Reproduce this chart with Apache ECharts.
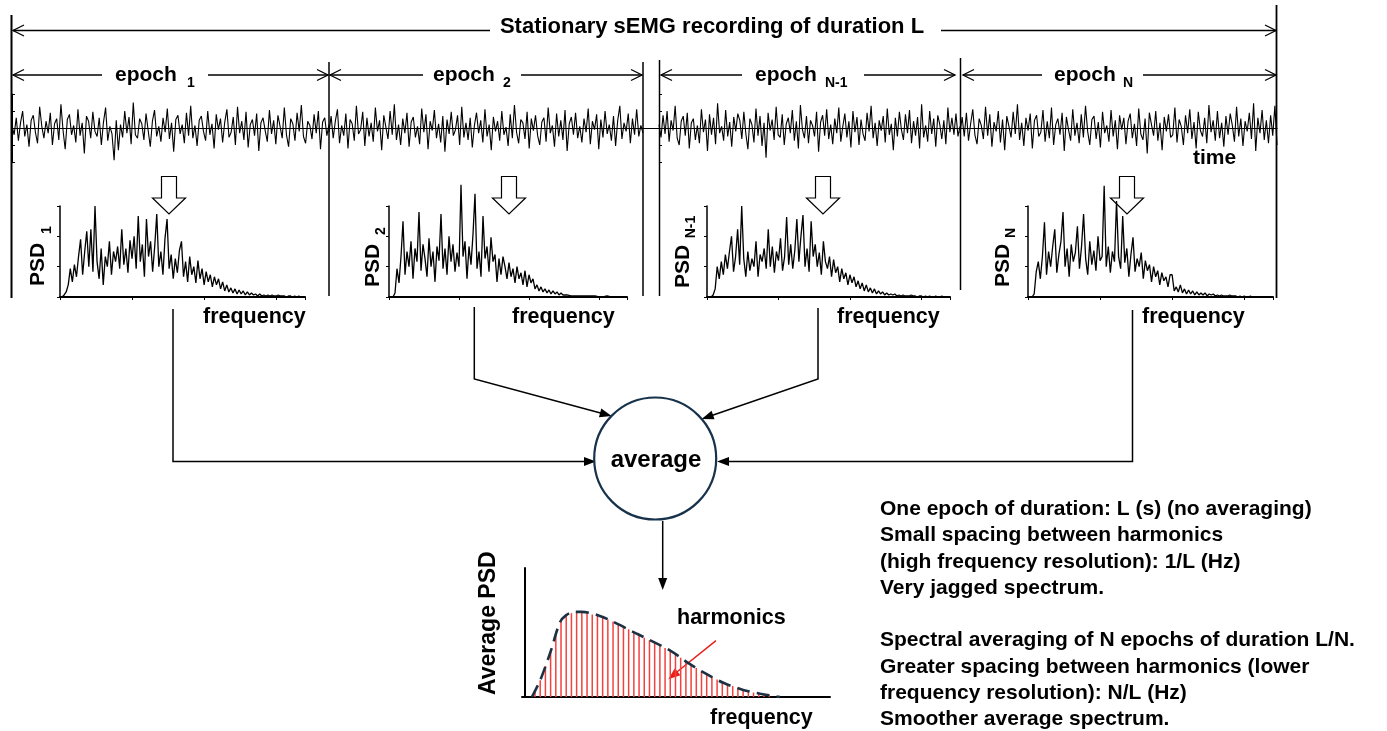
<!DOCTYPE html>
<html><head><meta charset="utf-8">
<script src="https://cdn.jsdelivr.net/npm/echarts@6/dist/echarts.min.js"></script>
<style>html,body{margin:0;padding:0;background:#fff}#c{width:1387px;height:731px}</style>
</head><body><div id="c"></div>
<script>
// ---- sEMG signal (4 epochs, amplitude, arbitrary units) ----
const epoch1 = [3,-8,12,-15,6,20,-10,4,-22,9,15,-5,-18,25,2,-12,8,-6,18,-20,
5,11,-14,28,-3,-25,10,16,-8,3,-17,22,-9,6,-30,14,8,-12,19,-4,
-10,12,-20,7,24,-15,2,-7,-38,9,-26,4,-11,20,-6,13,-19,30,-8,-12,
11,5,-14,17,-3,-22,8,21,-10,2,-16,12,-5,23,-13,6,-28,10,15,-7,
4,-18,18,-9,26,-12,3,-21,9,14,-4,-15,20,-8,5,-24,16,-2,11,-17,
7,22,-11,-5,13,-20,25,-6,8,-14,19,-23,4,10,-9,17,-27,6,12,-3,
-16,21,-7,9,-19,15,2,-12,24,-8,-22,11,5,-15,18,-4,27,-10,-18,8,
3,-13,16,-6,20,-25,7,12,-9,4];
const epoch2 = [-5,14,-12,8,22,-18,3,-9,17,-24,10,5,-15,26,-7,-2,19,-21,12,-10,
6,-16,24,-4,9,-26,15,1,-13,20,-8,28,-14,4,-20,11,-6,18,-22,7,
13,-11,2,-19,23,-5,16,-25,8,-3,21,-12,5,-17,14,-28,10,-7,19,-9,
-2,15,-20,25,-11,6,-14,12,-23,3,18,-6,9,-17,22,-10,4,-26,13,-4,
8,-15,20,-8,1,-21,16,-12,27,-5,-18,10,6,-13,19,-24,11,-3,15,-9,
-20,7,12,-16,24,-6,3,-22,17,-10,9,-14,21,-27,5,13,-8,18,-12,2,
-17,11,-5,23,-19,8,-2,16,-25,10,-11,20,-7,4,-15,14,-21,9,26,-13,
6,-4,17,-18,11,-8,22,-10,3,-6];
const epochNm1 = [4,-11,15,-7,20,-16,9,-3,26,-12,-20,8,14,-9,18,-24,6,11,-14,3,
-18,22,-5,10,-27,16,-8,12,-19,29,-6,2,-15,21,-10,7,-22,13,-4,17,
9,-13,19,-7,-25,11,4,-17,23,-9,14,-21,6,-35,18,-3,10,-14,25,-8,
-11,16,-20,5,12,-6,21,-15,8,-24,27,-2,-12,14,-18,9,3,-10,19,-28,
7,15,-9,22,-13,4,-19,11,-6,24,-16,2,17,-11,8,-23,20,-5,13,-20,
10,-7,-15,18,-4,26,-12,6,-21,9,-3,14,-17,23,-8,5,-26,12,-10,19,
-2,-14,16,-6,21,-18,8,-9,13,-24,28,-11,3,-16,20,-7,11,-22,15,4,
-13,9,-19,24,-5,12,-8,17,-10,2];
const epochN = [-6,13,-10,18,-15,5,22,-8,-19,11,3,-13,25,-9,16,-22,7,-4,20,-17,
10,-26,14,2,-11,19,-7,28,-14,6,-21,12,-3,17,-24,9,15,-10,-5,21,
-16,8,-12,24,-20,4,11,-8,18,-27,13,-2,-15,22,-9,6,-18,16,-11,26,
-4,-20,10,14,-13,7,-23,19,-6,3,-16,21,-10,9,-25,15,-2,12,-19,8,
17,-12,5,-21,23,-7,-14,11,-30,18,4,-9,20,-15,6,-26,13,-4,16,-11,
-8,24,-17,10,2,-20,15,-6,22,-13,7,-24,19,-3,-10,12,-18,27,-5,9,
-15,20,-12,6,-22,14,-8,17,3,-16,25,-10,11,-21,8,-4,18,-13,29,-27,
12,-6,21,-14,9,-18,15,-9,26,-20];
// epoch time spans (start, end) on each half of the recording
const epochSpans = [[0,317],[317,631],[0,301],[301,618]];

// ---- PSD of each epoch (frequency bins 0..119) ----
const psd1 = [0,0,2,5,12,28,15,32,20,40, 57,22,45,65,30,67,25,90,35,18,
48,12,40,30,55,22,45,35,50,28, 67,32,48,24,56,38,60,28,80,35,
52,20,77,40,55,25,50,82,30,45, 22,58,77,28,42,18,38,24,46,55,
20,35,15,40,22,30,14,36,18,28, 12,25,15,22,10,20,12,18,8,15,
6,12,5,9,4,8,3,7,3,6, 2,5,2,4,2,3,1,3,1,2,
1,2,1,2,1,1,2,1,1,1, 0,1,1,0,1,0,1,0,0,0];
const psd2 = [0,0,0,4,28,14,40,75,22,45, 30,55,18,48,35,84,26,52,38,20,
58,30,45,15,50,36,82,28,48,22, 60,35,52,25,44,30,111,40,55,18,
50,32,62,102,28,45,20,80,38,50, 25,59,35,42,15,38,22,40,30,18,
34,20,28,14,30,18,24,12,26,10, 22,14,18,8,12,6,10,5,8,4,
7,3,6,3,5,2,4,2,3,2, 3,1,2,1,2,1,1,1,2,1,
1,1,0,1,1,0,1,0,0,1, 0,0,1,0,0,0,0,0,0,0];
const psdNm1 = [0,0,0,2,8,30,18,35,22,42, 28,45,60,25,40,67,32,90,38,20,
45,26,38,30,55,20,42,35,48,28, 67,30,50,24,45,36,58,26,40,79,
32,52,28,46,77,35,60,81,30,48, 25,75,40,52,30,44,22,55,35,28,
40,20,37,24,30,15,28,18,24,12, 22,14,20,10,16,8,14,6,12,5,
9,4,8,3,6,3,5,2,4,2, 3,2,3,1,2,1,2,1,1,1,
2,1,1,0,1,1,0,1,0,1, 0,0,1,0,0,1,0,0,0,0];
const psdN = [0,0,0,3,25,35,18,40,74,22, 45,30,50,67,24,42,55,84,30,48,
20,52,35,44,70,28,50,82,38,22, 55,32,46,26,60,36,40,110,30,50,
24,45,35,95,40,28,80,34,48,20, 42,59,25,38,30,44,18,36,26,32,
15,30,20,26,12,24,16,20,10,22, 22,6,10,5,12,4,8,3,7,3,
6,2,5,2,4,2,4,1,3,2, 3,1,2,1,2,1,1,1,2,1,
1,1,0,1,0,1,0,0,1,0, 0,0,0,0,0,0,0,0,0,0];

// ---- Average PSD ----
const harmonicIndex = [2,3,4,5,6,7,8,9,10,11,12,13,14,15,16,17,18,19,20,21,22,23,24,25,
26,27,28,29,30,31,32,33,34,35,36,37,38,39,40,41,42,43,44,45,46,47];
const harmonicPower = [4.9,13,24,35,48,59,63.5,65,66,66,65,64,63,62,60,58.5,56.5,54.5,52.5,50,
48,46,44,42,40,38,36,33,30.5,27.5,25,22.5,20,17.5,15.5,13.5,11.5,10,8.5,7,5.5,4.5,3.5,2.7,2,1.5];
const envelopeFreq = [1.4,3,4.9,6.8,8,9.5,11,15,21.6,28,31.2,34.4,38.2,42,45.3,49.1];
const envelopePower = [0,13,34,58,63.5,66,66,62,49,36,27,19,11,5.5,2.5,0];

const F = '"Liberation Sans", Arial, Helvetica, sans-serif';
const chart = echarts.init(document.getElementById('c'), null, {renderer:'canvas'});

function epochData(arr, span){
  const n = arr.length, d = (span[1]-span[0])/(n-1);
  return arr.map((v,i)=>[span[0]+i*d, v]);
}
function idxData(arr){ return arr.map((v,i)=>[i,v]); }

const psdGrids = [
  {left:60, width:245}, {left:389, width:238}, {left:707, width:243}, {left:1028, width:245}
];
const grids = [
  {left:12, top:94, width:647, height:68},
  {left:659, top:94, width:618, height:68}
].concat(psdGrids.map(g=>({left:g.left, top:206, width:g.width, height:91})))
 .concat([{left:522, top:568, width:308, height:129}]);

const xAxes = [], yAxes = [];
[647,618].forEach((mx,i)=>{
  xAxes.push({gridIndex:i, type:'value', min:0, max:mx, axisLine:{onZero:true, lineStyle:{color:'#000', width:1.2}},
    axisTick:{show:false}, axisLabel:{show:false}, splitLine:{show:false}});
  yAxes.push({gridIndex:i, type:'value', min:-40, max:40, interval:20,
    axisLine:{show:true, lineStyle:{color:'#000', width:1}}, axisTick:{show:true, inside:true, length:3, lineStyle:{color:'#000'}},
    axisLabel:{show:false}, splitLine:{show:false}});
});
for (let i=0;i<4;i++){
  xAxes.push({gridIndex:2+i, type:'value', min:0, max:119, interval:35,
    axisLine:{onZero:false, lineStyle:{color:'#000', width:2}}, axisTick:{show:true, length:3, lineStyle:{color:'#000'}},
    axisLabel:{show:false}, splitLine:{show:false}});
  yAxes.push({gridIndex:2+i, type:'value', min:0, max:90, interval:30,
    axisLine:{show:true, lineStyle:{color:'#000', width:1.5}}, axisTick:{show:true, length:3, lineStyle:{color:'#000'}},
    axisLabel:{show:false}, splitLine:{show:false}});
}
xAxes.push({gridIndex:6, type:'value', min:-0.5, max:58.7, axisLine:{onZero:false, lineStyle:{color:'#000', width:2}},
  axisTick:{show:false}, axisLabel:{show:false}, splitLine:{show:false}});
yAxes.push({gridIndex:6, type:'value', min:0, max:100, axisLine:{show:true, lineStyle:{color:'#000', width:2}},
  axisTick:{show:false}, axisLabel:{show:false}, splitLine:{show:false}});

const series = [];
[[epoch1,0,0],[epoch2,1,0],[epochNm1,2,1],[epochN,3,1]].forEach(([arr,s,ax])=>{
  series.push({type:'line', xAxisIndex:ax, yAxisIndex:ax, data:epochData(arr, epochSpans[s]),
    showSymbol:false, clip:false, lineStyle:{color:'#000', width:1.1}, silent:true});
});
[psd1,psd2,psdNm1,psdN].forEach((arr,i)=>{
  series.push({type:'line', xAxisIndex:2+i, yAxisIndex:2+i, data:idxData(arr),
    showSymbol:false, clip:false, lineStyle:{color:'#000', width:1.3}, silent:true});
});
series.push({type:'bar', xAxisIndex:6, yAxisIndex:6, barWidth:1.5,
  data:harmonicIndex.map((k,i)=>[k, harmonicPower[i]]), itemStyle:{color:'#f2423e'}, silent:true});
series.push({type:'line', xAxisIndex:6, yAxisIndex:6, smooth:0.3,
  data:envelopeFreq.map((k,i)=>[k, envelopePower[i]]), showSymbol:false, clip:false,
  lineStyle:{color:'#1d3142', width:2.6, type:[13,7]}, silent:true, z:5});

// ---- diagram graphics ----
const G = [];
function txt(x,y,s,size,align,extra){
  return Object.assign({type:'text', x, y, style:{text:s, fontSize:size, fontWeight:'bold', fontFamily:F,
    fill:'#000', textAlign:align||'left', textVerticalAlign:'middle'}}, extra||{});
}
function ln(x1,y1,x2,y2,w,c){ return {type:'line', shape:{x1,y1,x2,y2}, style:{stroke:c||'#000', lineWidth:w||1.5}}; }
function pl(points,w,c){ return {type:'polyline', shape:{points}, style:{stroke:c||'#000', lineWidth:w||1.5, fill:null}}; }
function chev(tx,ty,dir){ return {type:'polyline', shape:{points:[[tx-dir*11,ty-5.5],[tx,ty],[tx-dir*11,ty+5.5]]},
  style:{stroke:'#000', lineWidth:1.3, fill:null}}; }
function head(tx,ty,fx,fy,c){
  const a=Math.atan2(ty-fy,tx-fx), L=12, W=9;
  const bx=tx-L*Math.cos(a), by=ty-L*Math.sin(a), px=-Math.sin(a)*W/2, py=Math.cos(a)*W/2;
  return {type:'polygon', shape:{points:[[tx,ty],[bx+px,by+py],[bx-px,by-py]]}, style:{fill:c||'#000', stroke:null}};
}
function block(cx){
  return {type:'polygon', shape:{points:[[cx-7.5,176.5],[cx+7.5,176.5],[cx+7.5,198],[cx+16.5,198],[cx,214],[cx-16.5,198],[cx-7.5,198]]},
    style:{fill:'transparent', stroke:'#000', lineWidth:1.2}};
}
// vertical separators
G.push(ln(11.5,15,11.5,298,2), ln(329,62,329,296), ln(643,62,643,296), ln(659.5,60,659.5,296), ln(960.5,58,960.5,290), ln(1276.5,5,1276.5,298,1.8));
// top arrow
G.push(ln(13,30.5,490,30.5,1.3), ln(941,30.5,1276,30.5,1.3), chev(13,30.5,-1), chev(1276,30.5,1));
G.push(txt(712,27,'Stationary sEMG recording of duration L',22,'center'));
// epoch arrows
const ey=75;
G.push(ln(13,ey,102,ey,1.3), ln(208,ey,328,ey,1.3), chev(13,ey,-1), chev(328,ey,1));
G.push(ln(330,ey,423,ey,1.3), ln(521,ey,642,ey,1.3), chev(330,ey,-1), chev(642,ey,1));
G.push(ln(661,ey,742,ey,1.3), ln(864,ey,955,ey,1.3), chev(661,ey,-1), chev(955,ey,1));
G.push(ln(963,ey,1042,ey,1.3), ln(1143,ey,1276,ey,1.3), chev(963,ey,-1), chev(1276,ey,1));
G.push(txt(115,ey,'epoch',21), txt(187,83,'1',14));
G.push(txt(433,ey,'epoch',21), txt(503,83,'2',14));
G.push(txt(755,ey,'epoch',21), txt(825,83,'N-1',14));
G.push(txt(1054,ey,'epoch',21), txt(1123,83,'N',14));
G.push(txt(1193,158,'time',21));
// hollow arrows
[169,509,823,1127].forEach(cx=>G.push(block(cx)));
// PSD labels (rotated)
const R = Math.PI/2;
[[38,286,47,230,'1'],[373,287,381,231,'2'],[683,288,691,227,'N-1'],[1003,287,1011,233,'N']].forEach(([x,y,sx,sy,s])=>{
  G.push(txt(x,y,'PSD',21,'left',{rotation:R}));
  G.push(txt(sx,sy,s,14,'center',{rotation:R}));
});
// frequency labels
G.push(txt(203,317,'frequency',21.5), txt(512,317,'frequency',21.5), txt(837,317,'frequency',21.5), txt(1142,317,'frequency',21.5));
// connectors
G.push(pl([[173,309],[173,461.5],[590,461.5]]), head(596,461.5,173,461.5));
G.push(pl([[474.3,307],[474.3,379],[607,414.7]]), head(611.7,416,474.3,379));
G.push(pl([[818,308],[818,379],[706,417.5]]), head(701.7,419,818,379));
G.push(pl([[1132.5,310],[1132.5,461.5],[722,461.5]]), head(717,461.5,1132.5,461.5));
G.push(ln(662.7,521,662.7,585), head(662.7,590,662.7,521));
// circle
G.push({type:'circle', shape:{cx:655.2, cy:458.5, r:61}, style:{fill:'#fff', stroke:'#17324a', lineWidth:2.2}});
G.push(txt(656,460,'average',24,'center'));
// average chart texts
G.push(txt(489,695,'Average PSD',23,'left',{rotation:R}));
G.push(txt(710,718,'frequency',21.5));
G.push(txt(677,618,'harmonics',21.5));
G.push(ln(716,640.7,675,673.5,1.5,'#e8201a'), head(668.3,679.3,716,640.7,'#e8201a'));
// right text block
G.push({type:'text', x:880, y:496, style:{text:[
  'One epoch of duration: L (s) (no averaging)',
  'Small spacing between harmonics',
  '(high frequency resolution): 1/L (Hz)',
  'Very jagged spectrum.',
  '',
  'Spectral averaging of N epochs of duration L/N.',
  'Greater spacing between harmonics (lower',
  'frequency resolution): N/L (Hz)',
  'Smoother average spectrum.'].join('\n'),
  fontSize:21, lineHeight:26.3, fontWeight:'bold', fontFamily:F, fill:'#000', textAlign:'left', textVerticalAlign:'top'}});

chart.setOption({
  animation:false,
  backgroundColor:'#fff',
  grid:grids, xAxis:xAxes, yAxis:yAxes, series,
  graphic:{elements:G}
});
</script></body></html>
